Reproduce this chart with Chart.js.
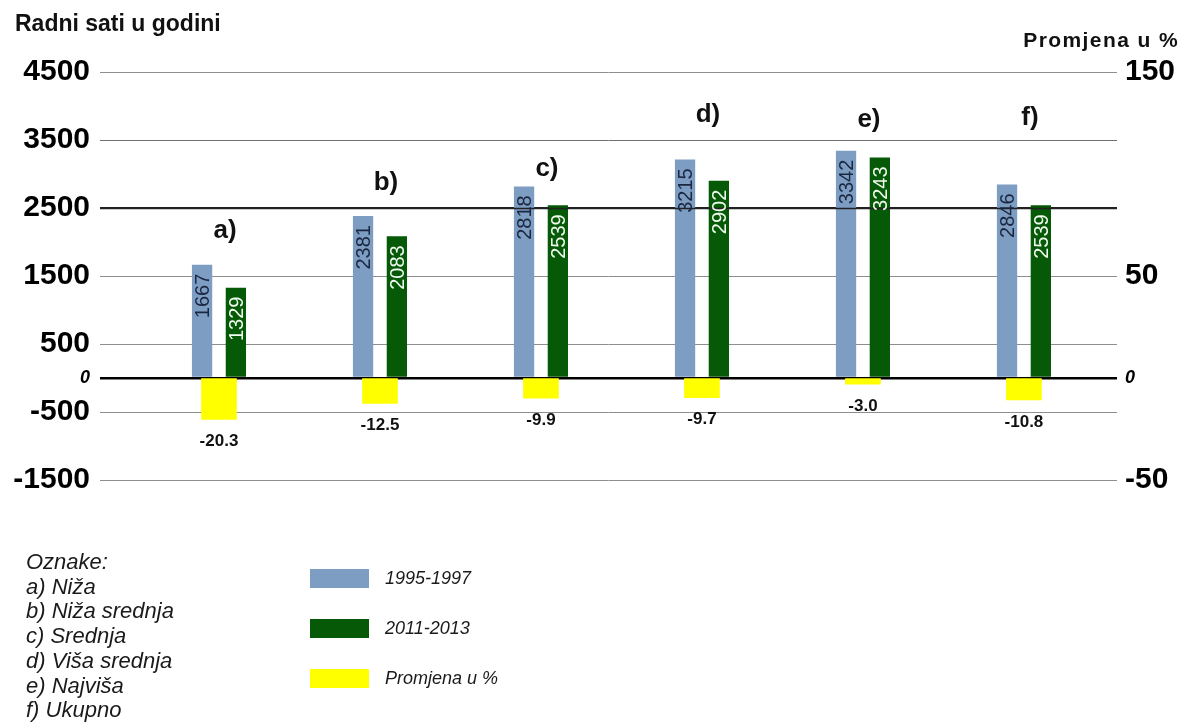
<!DOCTYPE html>
<html>
<head>
<meta charset="utf-8">
<script src="https://cdn.jsdelivr.net/npm/chart.js@4.4.1/dist/chart.umd.min.js"></script>
<style>
html,body{margin:0;padding:0;background:#fff;}
#wrap{position:relative;width:1185px;height:722px;overflow:hidden;font-family:"Liberation Sans",Arial,sans-serif;color:#111;}
#c{position:absolute;left:0;top:0;}
#tL{position:absolute;left:15px;top:12px;font-size:23px;font-weight:bold;line-height:23px;white-space:nowrap;}
#tR{position:absolute;right:6px;top:29px;font-size:21px;font-weight:bold;line-height:21px;letter-spacing:1.4px;white-space:nowrap;}
#notes{position:absolute;left:26px;top:550px;font-size:22px;font-style:italic;line-height:24.7px;white-space:nowrap;color:#1a1a1a;}
#legend{position:absolute;left:310px;top:569px;}
.lrow{position:relative;height:50px;}
.lbox{position:absolute;left:0;top:0;width:59px;height:19px;}
.ltxt{position:absolute;left:75px;top:0;line-height:19px;font-size:18px;font-style:italic;white-space:nowrap;color:#1a1a1a;}
</style>
</head>
<body>
<div id="wrap">
<canvas id="c" width="1185" height="722"></canvas>
<div id="tL">Radni sati u godini</div>
<div id="tR">Promjena u %</div>
<div id="notes"></div>
<div id="legend"></div>
</div>
<script>
// ---- data ----
const categories = ['a)', 'b)', 'c)', 'd)', 'e)', 'f)'];
const categoryNames = ['Niža', 'Niža srednja', 'Srednja', 'Viša srednja', 'Najviša', 'Ukupno'];
const seriesNames = ['1995-1997', '2011-2013', 'Promjena u %'];
const hours1995 = [1667, 2381, 2818, 3215, 3342, 2846];
const hours2011 = [1329, 2083, 2539, 2902, 3243, 2539];
const changePct = [-20.3, -12.5, -9.9, -9.7, -3.0, -10.8];
const leftTicks = [-1500, -500, 0, 500, 1500, 2500, 3500, 4500];
const rightTicks = [-50, 0, 50, 150];
const notesTitle = 'Oznake:';

// ---- layout (not data) ----
const letterLevels = [2160, 2870, 3070, 3870, 3800, 3820]; // height of group letters, in hours
const FONT = '"Liberation Sans", Arial, sans-serif';
const colors = ['#7d9dc3', '#065906', '#ffff00'];

Chart.defaults.font.family = FONT;

const toXY = arr => arr.map((v, i) => ({ x: i, y: v }));
const intTicks = s => { s.ticks = categories.map((_, i) => ({ value: i })); };

const tickFont = ctx => (ctx.tick && ctx.tick.value === 0)
  ? { family: FONT, size: 18, weight: 'bold', style: 'italic' }
  : { family: FONT, size: 30, weight: 'bold' };

const annot = {
  id: 'annot',
  afterDatasetsDraw(chart) {
    const ctx = chart.ctx;
    const yL = chart.scales.y;
    const area = chart.chartArea;
    // emphasised 2500 line over the bars
    const y25 = Math.round(yL.getPixelForValue(2500)) + 0.5;
    ctx.save();
    ctx.strokeStyle = '#222';
    ctx.lineWidth = 1.5;
    ctx.beginPath();
    ctx.moveTo(area.left, y25);
    ctx.lineTo(area.right, y25);
    ctx.stroke();
    ctx.restore();

    // vertical values inside bars
    [0, 1].forEach(di => {
      const meta = chart.getDatasetMeta(di);
      meta.data.forEach((bar, i) => {
        const v = chart.data.datasets[di].data[i].y;
        ctx.save();
        ctx.translate(bar.x + 7, bar.y + 9);
        ctx.rotate(-Math.PI / 2);
        ctx.font = '20px ' + FONT;
        ctx.fillStyle = di === 0 ? '#1b2740' : '#f0fbf0';
        ctx.textAlign = 'right';
        ctx.textBaseline = 'alphabetic';
        ctx.fillText(String(v), 0, 0);
        ctx.restore();
      });
    });

    // group letters
    const m0 = chart.getDatasetMeta(0), m1 = chart.getDatasetMeta(1);
    ctx.save();
    ctx.font = 'bold 26px ' + FONT;
    ctx.fillStyle = '#111';
    ctx.textAlign = 'center';
    ctx.textBaseline = 'middle';
    categories.forEach((c, i) => {
      const cx = (m0.data[i].x + m1.data[i].x) / 2 + 6;
      ctx.fillText(c, cx, yL.getPixelForValue(letterLevels[i]));
    });
    ctx.restore();

    // percentage labels under the yellow bars
    const m2 = chart.getDatasetMeta(2);
    ctx.save();
    ctx.font = 'bold 17px ' + FONT;
    ctx.fillStyle = '#111';
    ctx.textAlign = 'center';
    ctx.textBaseline = 'middle';
    m2.data.forEach((bar, i) => {
      ctx.fillText(changePct[i].toFixed(1), bar.x, bar.y + 22);
    });
    ctx.restore();
  }
};

const chart = new Chart(document.getElementById('c'), {
  type: 'bar',
  data: {
    datasets: [
      { label: seriesNames[0], data: toXY(hours1995), backgroundColor: colors[0], yAxisID: 'y',
        categoryPercentage: 0.42, barPercentage: 0.6 },
      { label: seriesNames[1], data: toXY(hours2011), backgroundColor: colors[1], yAxisID: 'y',
        categoryPercentage: 0.42, barPercentage: 0.6 },
      { label: seriesNames[2], data: toXY(changePct), backgroundColor: colors[2], yAxisID: 'y1',
        grouped: false, barThickness: 35 }
    ]
  },
  options: {
    responsive: false,
    animation: false,
    layout: { padding: { top: 72, bottom: 242, left: 0, right: 0 } },
    plugins: { legend: { display: false }, tooltip: { enabled: false } },
    scales: {
      x: {
        type: 'linear', min: -0.739, max: 5.578, display: false,
        offset: false, bounds: 'data', grid: { offset: false },
        afterBuildTicks: intTicks
      },
      y: {
        type: 'linear', position: 'left', min: -1500, max: 4500,
        afterBuildTicks: s => { s.ticks = leftTicks.map(v => ({ value: v })); },
        afterFit: s => { s.width = 100; },
        border: { display: false },
        grid: {
          drawTicks: false,
          color: c => c.tick.value === 0 ? '#000' : (c.tick.value === 2500 ? '#222' : (c.tick.value === 3500 ? '#707070' : '#8e8e8e')),
          lineWidth: c => c.tick.value === 0 ? 2.5 : (c.tick.value === 2500 ? 1.5 : 1)
        },
        ticks: { autoSkip: false, padding: 10, color: '#000', font: tickFont, callback: v => String(v) }
      },
      y1: {
        type: 'linear', position: 'right', min: -50, max: 150,
        afterBuildTicks: s => { s.ticks = rightTicks.map(v => ({ value: v })); },
        afterFit: s => { s.width = 68; },
        border: { display: false },
        grid: { drawOnChartArea: false, drawTicks: false },
        ticks: { autoSkip: false, padding: 8, color: '#000', font: tickFont, callback: v => String(v) }
      }
    }
  },
  plugins: [annot]
});

// notes list
const notes = document.getElementById('notes');
[notesTitle].concat(categories.map((c, i) => c + ' ' + categoryNames[i])).forEach(t => {
  const d = document.createElement('div');
  d.textContent = t;
  notes.appendChild(d);
});

// legend from datasets
const legend = document.getElementById('legend');
chart.data.datasets.forEach(ds => {
  const row = document.createElement('div');
  row.className = 'lrow';
  const box = document.createElement('div');
  box.className = 'lbox';
  box.style.background = ds.backgroundColor;
  const txt = document.createElement('div');
  txt.className = 'ltxt';
  txt.textContent = ds.label;
  row.appendChild(box);
  row.appendChild(txt);
  legend.appendChild(row);
});
</script>
</body>
</html>
